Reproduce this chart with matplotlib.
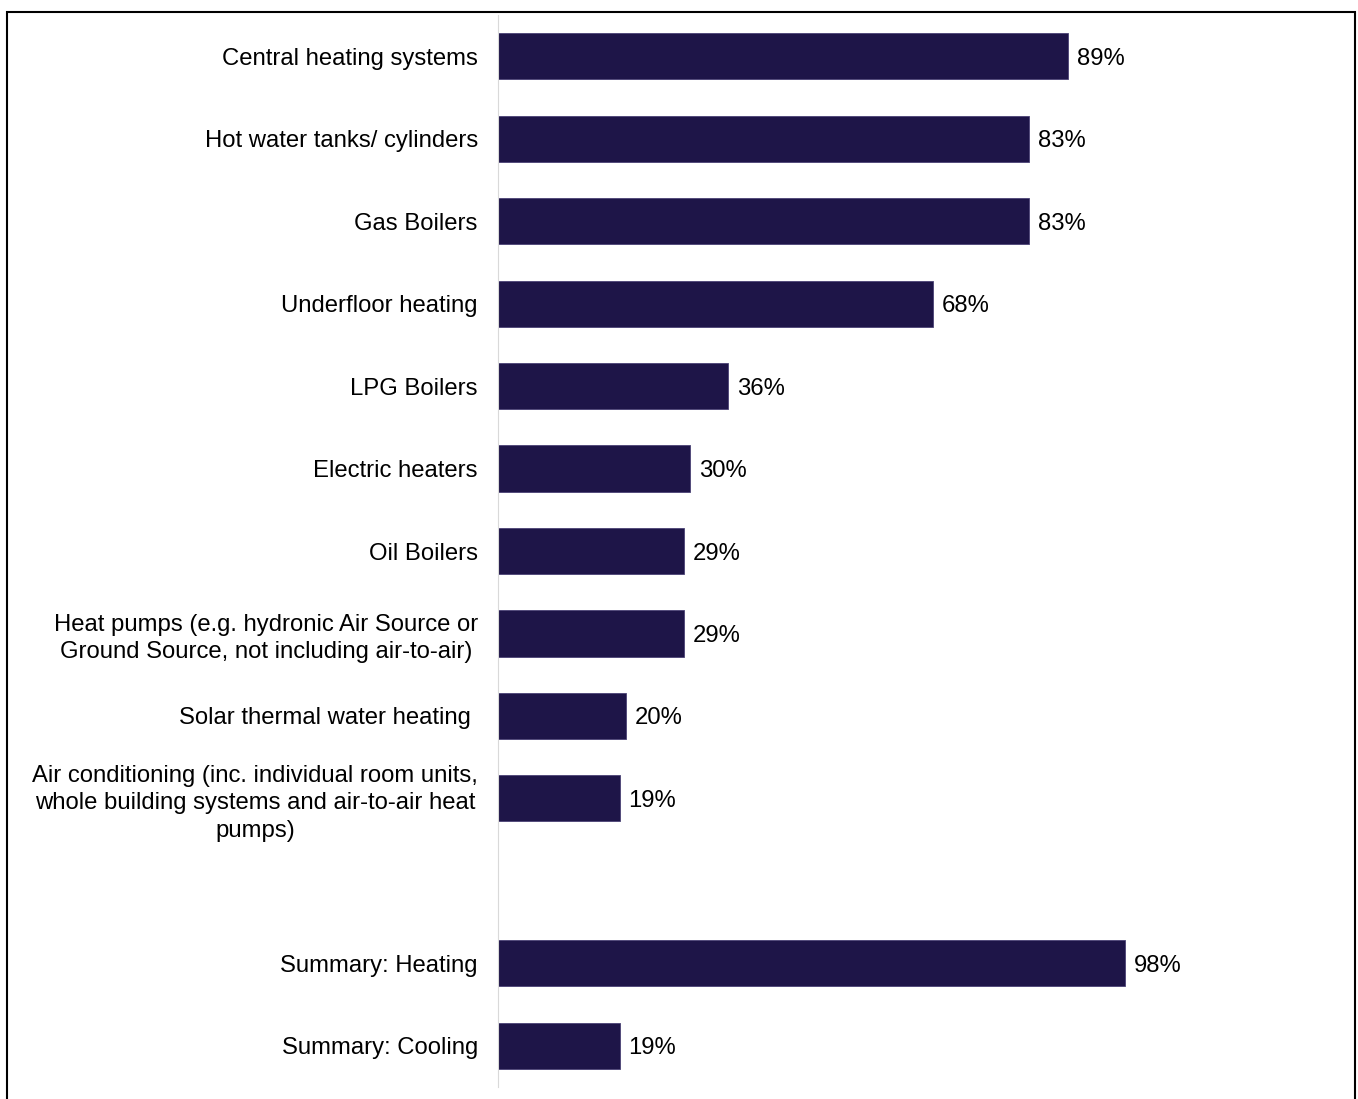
import matplotlib
matplotlib.use('Agg')
import matplotlib.pyplot as plt
from matplotlib.patches import Rectangle

plt.rcParams['font.family'] = ['Liberation Sans', 'DejaVu Sans']

# heating / cooling technologies, with an empty slot before the summary rows
labels = [
    'Central heating systems',
    'Hot water tanks/ cylinders',
    'Gas Boilers',
    'Underfloor heating',
    'LPG Boilers',
    'Electric heaters',
    'Oil Boilers',
    'Heat pumps (e.g. hydronic Air Source or\nGround Source, not including air-to-air)',
    'Solar thermal water heating ',
    'Air conditioning (inc. individual room units,\nwhole building systems and air-to-air heat\npumps)',
    '',
    'Summary: Heating',
    'Summary: Cooling',
]
values = [89, 83, 83, 68, 36, 30, 29, 29, 20, 19, None, 98, 19]

bar_color = '#1e1548'
fs = 17.2

fig = plt.figure(figsize=(13.58, 10.99), dpi=100)
ax = fig.add_axes([498 / 1358, 1 - 1087 / 1099, 640 / 1358, 1072 / 1099])

pos = list(range(len(labels)))
for p, v in zip(pos, values):
    if v is None:
        continue
    ax.barh(p, v, height=0.56, color=bar_color, edgecolor='#4a4275', linewidth=0.6)
    ax.text(v + 1.4, p, f'{v}%', va='center_baseline', ha='left', fontsize=fs, color='#000000')

ax.set_xlim(0, 100)
ax.set_ylim(len(labels) - 0.5, -0.5)
ax.set_yticks(pos)
ax.set_yticklabels(labels, fontsize=fs, multialignment='center', linespacing=1.3)
ax.tick_params(axis='y', length=0, pad=14.5)
ax.set_xticks([])

for s in ['top', 'right', 'bottom']:
    ax.spines[s].set_visible(False)
ax.spines['left'].set_color('#d9d9d9')
ax.spines['left'].set_linewidth(0.8)

# outer frame, open at the bottom edge
frame = Rectangle((6.5 / 1358, -0.05), (1355 - 6.5) / 1358, 1.05 - 11.5 / 1099,
                  transform=fig.transFigure, fill=False, edgecolor='#000000',
                  linewidth=1.5, clip_on=False)
fig.add_artist(frame)

fig.savefig('out.png', dpi=100, facecolor='white')
